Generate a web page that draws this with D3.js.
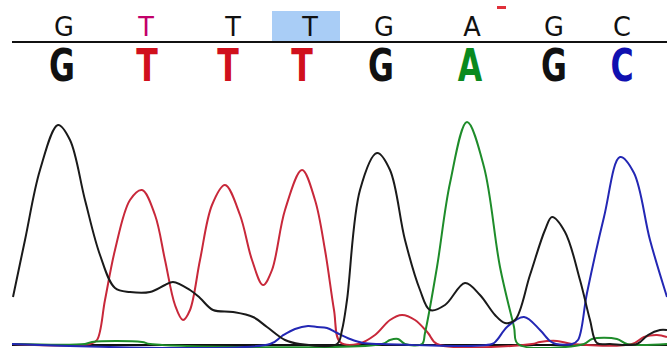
<!DOCTYPE html>
<html>
<head>
<meta charset="utf-8">
<script src="https://cdn.jsdelivr.net/npm/d3@7"></script>
<style>
  body { margin: 0; background: #fff; }
  svg { display: block; }
</style>
</head>
<body>
<svg id="chroma"></svg>
<script>
// base calls (scan position of each call, from the picture)
const calledBases = ['G', 'T', 'T', 'T', 'G', 'A', 'G', 'C'];
const calledPos = [52, 134, 221, 298, 372, 460, 542, 610];
const editedBases = ['G', 'T', 'T', 'T', 'G', 'A', 'G', 'C'];
const editedPos = [50, 135, 216, 290, 369, 458, 542, 610];
const highlightIndex = 3;

// traces: [scan, intensity]
const traceG = [[1, 47], [13, 104], [28, 174], [46, 219], [58, 204], [73, 144], [88, 89], [103, 56], [118, 52], [138, 52],
  [153, 59], [161, 62], [178, 54], [188, 46], [201, 34], [221, 32], [241, 27], [255, 17], [273, 4], [288, 0], [325, 0],
  [330, 14], [335, 44], [348, 154], [365, 191], [378, 174], [393, 104], [408, 54], [418, 34], [433, 39], [453, 61],
  [468, 49], [483, 29], [493, 21], [503, 24], [518, 69], [533, 114], [540, 127], [553, 112], [568, 64], [578, 24],
  [585, 1], [598, 0], [625, 0], [636, 9], [648, 14], [655, 14]];
const traceT = [[0, 0], [78, 0], [85, 4], [93, 44], [103, 94], [118, 144], [130, 154], [143, 129], [153, 84], [163, 39],
  [171, 24], [178, 34], [188, 84], [200, 139], [213, 159], [228, 129], [240, 84], [251, 59], [260, 74], [273, 134],
  [290, 174], [303, 144], [313, 94], [322, 34], [328, 2], [346, 0], [363, 9], [378, 24], [390, 29], [403, 24],
  [416, 11], [425, 0], [520, 0], [528, 2], [545, 3], [560, 0], [620, 0], [632, 7], [645, 9], [655, 7]];
const traceA = [[0, 0], [73, 0], [80, 2], [130, 2], [138, 0], [370, 0], [378, 4], [386, 5], [393, 0], [410, 0],
  [413, 11], [425, 77], [438, 161], [455, 222], [472, 177], [488, 77], [502, 17], [506, 0], [572, 0], [580, 5],
  [605, 5], [615, 0], [655, 0]];
const traceC = [[0, 0], [258, 0], [270, 8], [283, 15], [296, 18], [305, 17], [315, 16], [325, 11], [338, 5], [351, 1],
  [370, 0], [480, 0], [485, 4], [495, 17], [512, 27], [528, 14], [538, 3], [544, 0], [560, 0], [566, 4], [575, 51],
  [592, 127], [608, 187], [622, 171], [638, 104], [655, 47]];

const traces = [
  {name: 'T', data: traceT, color: '#c8283a'},
  {name: 'A', data: traceA, color: '#1e8c2a'},
  {name: 'C', data: traceC, color: '#2327b4'},
  {name: 'G', data: traceG, color: '#1a1a1a'}
];
const baseColor = {G: '#111', T: '#d0101c', A: '#0a8a1e', C: '#1010b0'};

const width = 667;
const height = 348;
const margin = {top: 94, right: 0, bottom: 4, left: 12};

const svg = d3.select('#chroma')
  .attr('width', width)
  .attr('height', height)
  .style('font-family', 'DejaVu Sans');

const x = d3.scaleLinear()
  .domain([0, 655])
  .range([margin.left, width]);
const y = d3.scaleLinear()
  .domain([0, 250])
  .range([height - margin.bottom, margin.top]);

// highlighted base
svg.append('rect')
  .attr('x', x(calledPos[highlightIndex]) - 38)
  .attr('y', 11)
  .attr('width', 68)
  .attr('height', 30)
  .attr('fill', '#a9cdf6');

// top row: called bases
svg.selectAll('text.called')
  .data(calledBases)
  .enter()
  .append('text')
  .attr('class', 'called')
  .attr('transform', (d, i) => 'translate(' + x(calledPos[i]) + ',36) scale(0.95,1)')
  .attr('text-anchor', 'middle')
  .style('font-size', '27px')
  .style('fill', (d, i) => i === 1 ? '#c2006a' : '#111')
  .text(d => d);

// small red mark above the A
svg.append('rect')
  .attr('x', x(calledPos[5]) + 25)
  .attr('y', 6)
  .attr('width', 9)
  .attr('height', 3)
  .attr('fill', '#e0303a');

svg.append('line')
  .attr('x1', margin.left)
  .attr('x2', width)
  .attr('y1', 42)
  .attr('y2', 42)
  .attr('stroke', '#111')
  .attr('stroke-width', 2);

// bottom row: edited bases
svg.selectAll('text.edited')
  .data(editedBases)
  .enter()
  .append('text')
  .attr('class', 'edited')
  .attr('transform', (d, i) => 'translate(' + x(editedPos[i]) + ',81) scale(0.78,1)')
  .attr('text-anchor', 'middle')
  .style('font-family', 'DejaVu Sans Condensed')
  .style('font-weight', 'bold')
  .style('font-size', '45px')
  .style('fill', d => baseColor[d])
  .text(d => d);

// baseline
svg.append('line')
  .attr('x1', margin.left)
  .attr('x2', width)
  .attr('y1', y(0) + 1)
  .attr('y2', y(0) + 1)
  .attr('stroke', '#111')
  .attr('stroke-width', 2);

const line = d3.line()
  .x(d => x(d[0]))
  .y(d => y(d[1]))
  .curve(d3.curveCatmullRom.alpha(0.5));

svg.selectAll('path.trace')
  .data(traces)
  .enter()
  .append('path')
  .attr('class', 'trace')
  .attr('d', d => line(d.data))
  .attr('fill', 'none')
  .attr('stroke', d => d.color)
  .attr('stroke-width', 2);
</script>
</body>
</html>
